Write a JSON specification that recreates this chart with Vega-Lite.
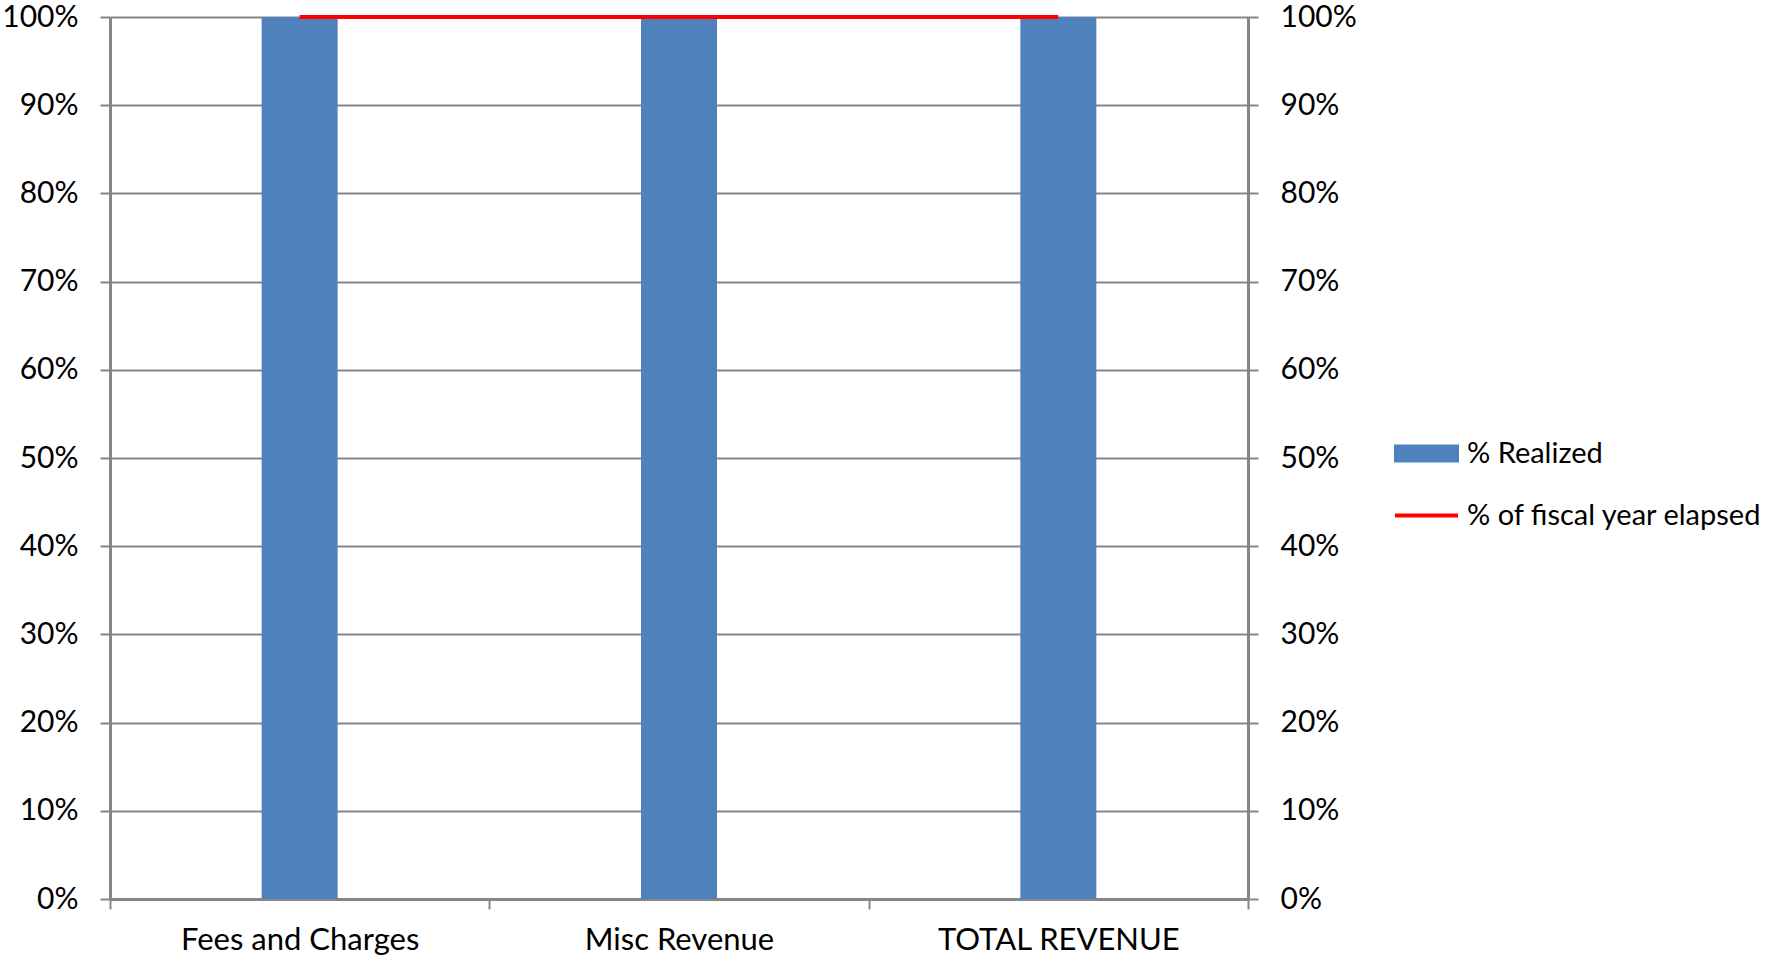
{
  "$schema": "https://vega.github.io/schema/vega-lite/v6.json",
  "width": 1138,
  "height": 882,
  "autosize": {"type": "none"},
  "padding": {"left": 110, "top": 17, "right": 541, "bottom": 59},
  "background": "white",
  "config": {
    "view": {"stroke": null},
    "font": "Lato",
    "axis": {
      "labelFont": "Lato",
      "labelFontSize": 30,
      "labelColor": "#000000",
      "labelLimit": 0,
      "domainColor": "#868686",
      "domainWidth": 3,
      "tickColor": "#868686",
      "tickWidth": 2,
      "tickSize": 10,
      "gridColor": "#868686",
      "gridWidth": 2,
      "title": null
    },
    "legend": {
      "labelFont": "Lato",
      "labelFontSize": 29,
      "labelColor": "#000000",
      "labelLimit": 0
    }
  },
  "data": {
    "values": [
      {"category": "Fees and Charges", "series": "% Realized", "value": 1.0},
      {"category": "Misc Revenue", "series": "% Realized", "value": 1.0},
      {"category": "TOTAL REVENUE", "series": "% Realized", "value": 1.0},
      {"category": "Fees and Charges", "series": "% of fiscal year elapsed", "value": 1.0},
      {"category": "Misc Revenue", "series": "% of fiscal year elapsed", "value": 1.0},
      {"category": "TOTAL REVENUE", "series": "% of fiscal year elapsed", "value": 1.0}
    ]
  },
  "encoding": {
    "x": {
      "field": "category",
      "type": "nominal",
      "sort": null,
      "scale": {"paddingInner": 0, "paddingOuter": 0},
      "axis": {
        "labelAngle": 0,
        "labelFontSize": 31,
        "labelPadding": 16,
        "tickBand": "extent",
        "domainWidth": 3
      }
    },
    "y": {
      "field": "value",
      "type": "quantitative",
      "scale": {"domain": [0, 1], "nice": false}
    },
    "color": {
      "field": "series",
      "type": "nominal",
      "scale": {
        "domain": ["% Realized", "% of fiscal year elapsed"],
        "range": ["#4F81BD", "#FF0000"]
      },
      "legend": {
        "title": null,
        "orient": "none",
        "legendX": 1284,
        "legendY": 404,
        "padding": 0,
        "rowPadding": 14,
        "labelOffset": 8,
        "symbolSize": 4225,
        "symbolStrokeWidth": 0,
        "encode": {
          "symbols": {
            "update": {
              "shape": {"signal": "datum.value === '% Realized' ? 'M-1,-0.28H1V0.28H-1Z' : 'M-0.97,-0.06H0.97V0.06H-0.97Z'"},
              "fill": {"signal": "datum.value === '% Realized' ? '#4F81BD' : '#FF0000'"},
              "fillOpacity": {"value": 1},
              "strokeWidth": {"value": 0}
            }
          }
        }
      }
    }
  },
  "layer": [
    {
      "transform": [{"filter": "datum.series === '% Realized'"}],
      "mark": {"type": "bar", "size": 76},
      "encoding": {
        "y": {
          "field": "value",
          "type": "quantitative",
          "scale": {"domain": [0, 1], "nice": false},
          "axis": {
            "orient": "left",
            "format": ".0%",
            "values": [0, 0.1, 0.2, 0.3, 0.4, 0.5, 0.6, 0.7, 0.8, 0.9, 1.0],
            "labelPadding": 22,
            "grid": true
          }
        }
      }
    },
    {
      "transform": [{"filter": "datum.series === '% of fiscal year elapsed'"}],
      "mark": {"type": "line", "strokeWidth": 4},
      "encoding": {
        "y": {
          "field": "value",
          "type": "quantitative",
          "scale": {"domain": [0, 1], "nice": false},
          "axis": {
            "orient": "right",
            "format": ".0%",
            "values": [0, 0.1, 0.2, 0.3, 0.4, 0.5, 0.6, 0.7, 0.8, 0.9, 1.0],
            "labelPadding": 22,
            "grid": false
          }
        }
      }
    }
  ],
  "resolve": {"axis": {"y": "independent"}}
}
